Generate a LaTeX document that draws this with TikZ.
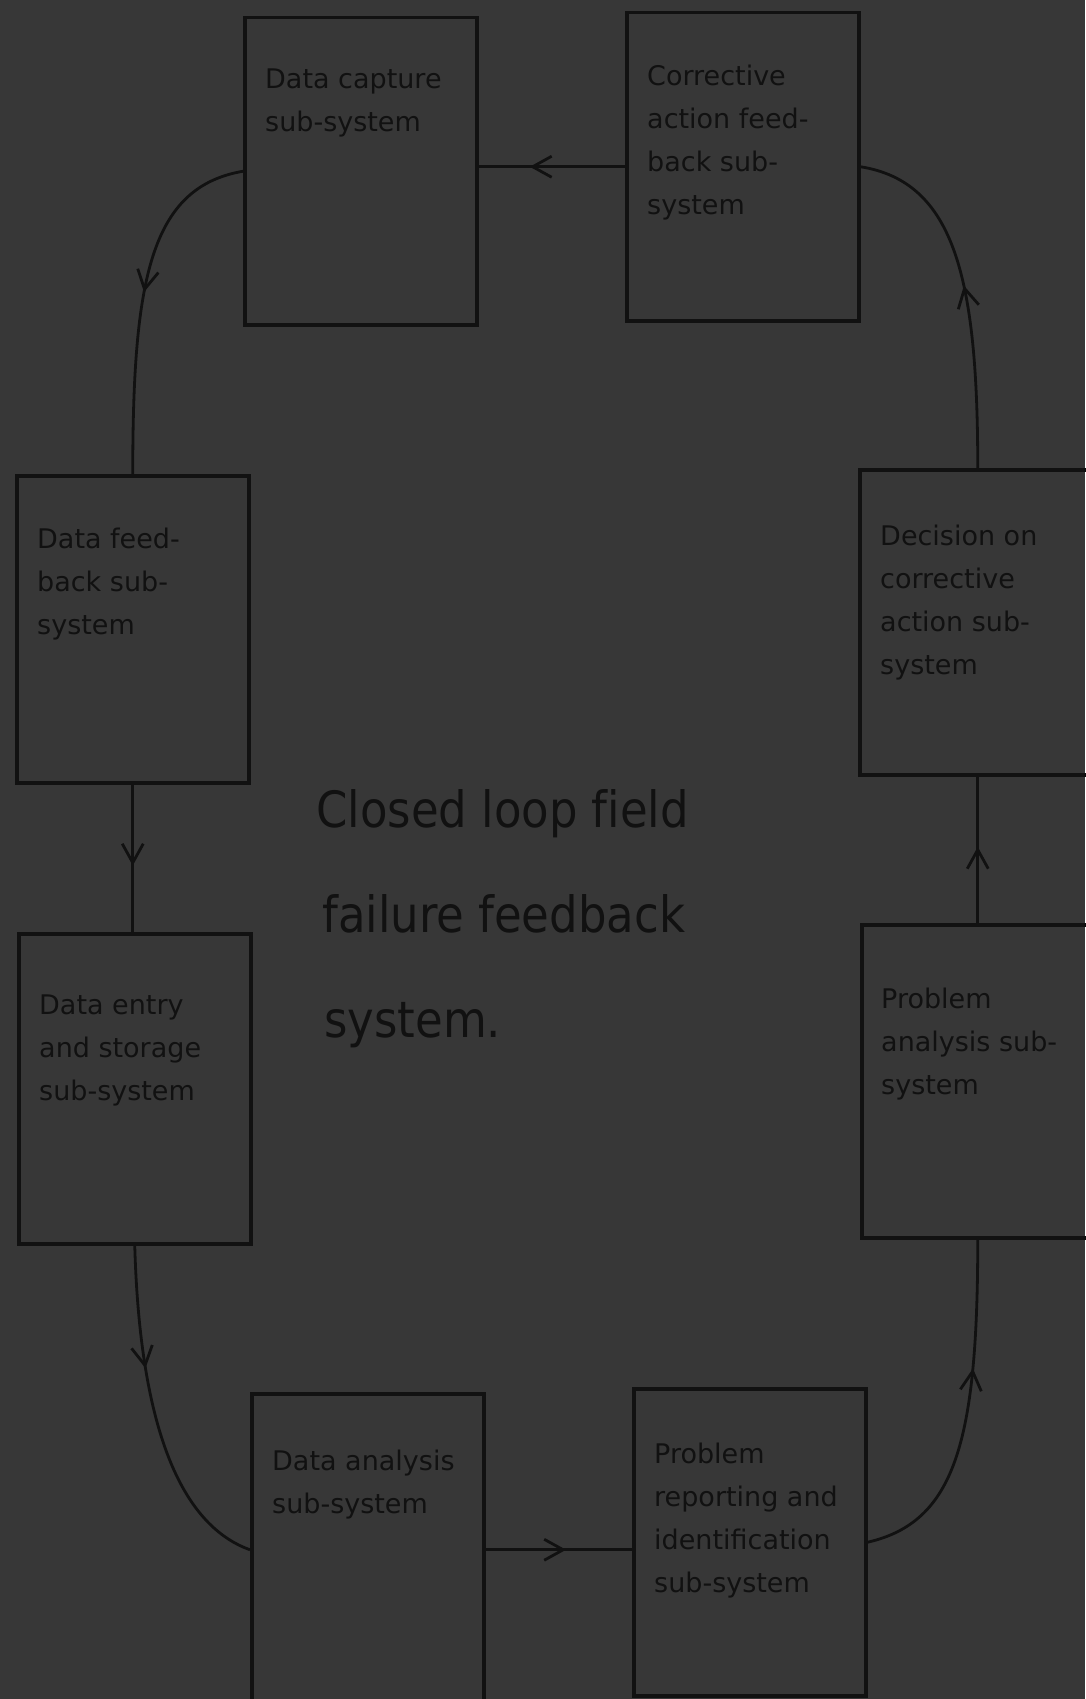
\documentclass[tikz,border=0pt]{standalone}
\usepackage{fontspec}
\setmainfont{DejaVu Sans}
\newfontfamily\titlefont[Ligatures=NoCommon]{DejaVu Sans Condensed}
\usepackage{tikz}
\usetikzlibrary{arrows.meta,decorations.markings}

\definecolor{paper}{RGB}{55,55,55}
\definecolor{ink}{RGB}{17,17,17}

\begin{document}
\begin{tikzpicture}[x=1pt,y=-1pt,ink]

  \tikzstyle{subsys}=[draw=ink,line width=3.5pt,anchor=north west,inner sep=0pt,minimum width=232pt,minimum height=307pt]
  \tikzstyle{subtext}=[anchor=north west,align=left,inner sep=0pt,text=ink,font=\fontsize{27}{43}\selectfont]
  \tikzstyle{link}=[draw=ink,line width=2.8pt]
  \tikzset{flow/.style={postaction={decorate},decoration={markings,mark=at position #1 with {\arrow{Straight Barb[length=19pt,width=21pt]}}}},flow/.default=0.5}

  \fill[paper] (0,0) rectangle (1085,1699);
  \useasboundingbox (0,0) rectangle (1085,1699);

  % boxes
  \node[subsys] (capture)    at (243,16)   {};
  \node[subsys,minimum height=308pt] (corrective) at (625,11) {};
  \node[subsys] (feedback)   at (15,474)   {};
  \node[subsys,minimum width=236pt,minimum height=305pt] (decision) at (858,468) {};
  \node[subsys,minimum height=310pt] (entry) at (17,932) {};
  \node[subsys,minimum height=313pt] (panalysis) at (860,923) {};
  \node[subsys,minimum height=312pt] (analysis) at (250,1392) {};
  \node[subsys] (reporting)  at (632,1387) {};

  % texts
  \node[subtext] (capture-txt)    at ([xshift=22pt,yshift=-53pt]capture.north west)    {Data capture\\sub-system};
  \node[subtext] (corrective-txt) at ([xshift=22pt,yshift=-54pt]corrective.north west) {Corrective\\action feed-\\back sub-\\system};
  \node[subtext] (feedback-txt)   at ([xshift=22pt,yshift=-54pt]feedback.north west)   {Data feed-\\back sub-\\system};
  \node[subtext] (decision-txt)   at ([xshift=22pt,yshift=-57pt]decision.north west)   {Decision on\\corrective\\action sub-\\system};
  \node[subtext] (entry-txt)      at ([xshift=22pt,yshift=-63pt]entry.north west)      {Data entry\\and storage\\sub-system};
  \node[subtext] (panalysis-txt)  at ([xshift=21pt,yshift=-65pt]panalysis.north west)  {Problem\\analysis sub-\\system};
  \node[subtext] (analysis-txt)   at ([xshift=22pt,yshift=-58pt]analysis.north west)   {Data analysis\\sub-system};
  \node[subtext] (reporting-txt)  at ([xshift=22pt,yshift=-56pt]reporting.north west)  {Problem\\reporting and\\identification\\sub-system};

  % centre caption
  \node[anchor=base west,align=left,inner sep=0pt,text=ink,font=\titlefont\fontsize{50}{105}\selectfont] (title) at (316,1037)
    {Closed loop field\\\hspace*{6pt}failure feedback\\\hspace*{8pt}system.};

  % loop
  \draw[link,flow=0.65] (corrective.west) -- (corrective.west -| capture.east);
  \draw[link,flow=0.48] (capture.west) .. controls +(-93,16) and +(0,-194) .. (feedback.north);
  \draw[link,flow=0.55] (feedback.south) -- (feedback.south |- entry.north);
  \draw[link,flow=0.36] (entry.south) .. controls +(5,180) and +(-70,-25) .. (analysis.west);
  \draw[link,flow=0.55] (analysis.east) -- (analysis.east -| reporting.west);
  \draw[link,flow=0.63] (reporting.east) .. controls +(87,-20) and +(0,204) .. (panalysis.south);
  \draw[link,flow=0.52] (panalysis.north) -- (decision.south);
  \draw[link,flow=0.52] (decision.north) .. controls +(0,-190) and +(94,15) .. (corrective.east);

\end{tikzpicture}
\end{document}
